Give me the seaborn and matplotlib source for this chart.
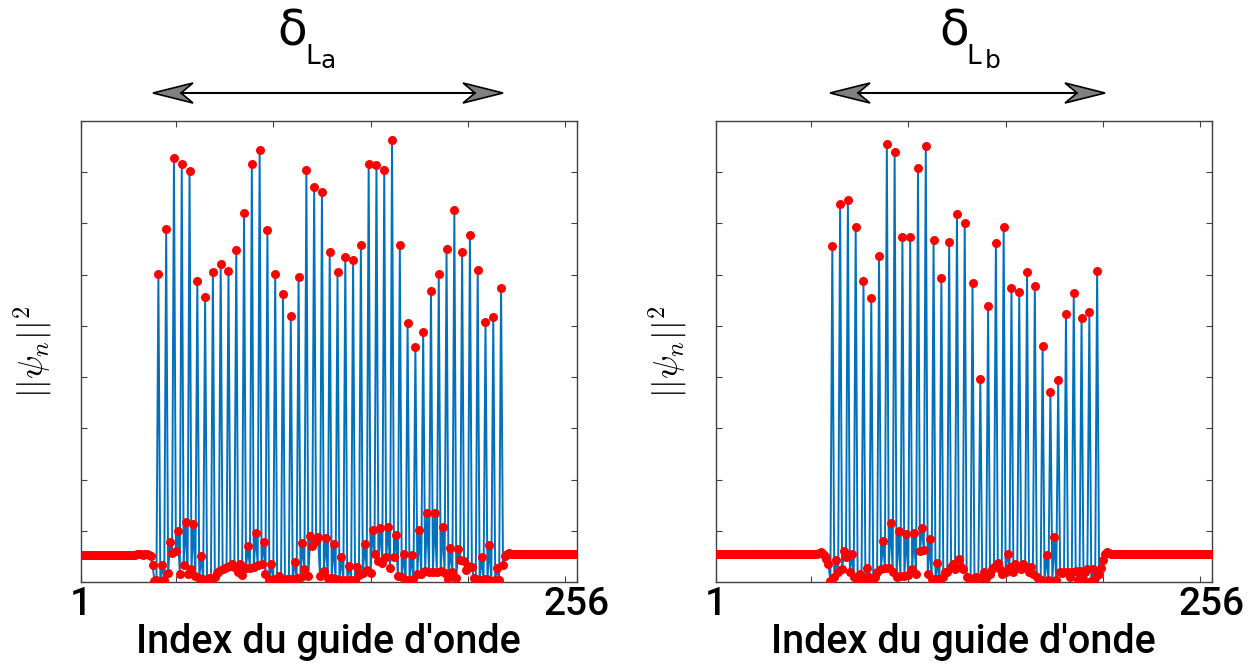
import matplotlib
matplotlib.use("Agg")
import matplotlib.pyplot as plt
from matplotlib.patches import Polygon
from matplotlib.lines import Line2D
import pandas as pd
import seaborn as sns

sns.set_theme(style="white")
plt.rcParams["font.family"] = ["Roboto", "DejaVu Sans"]
plt.rcParams["mathtext.fontset"] = "cm"
plt.rcParams["text.color"] = "black"

# ---------------- data (|psi_n|^2, arbitrary units, ylim 0..9) ----------------
waveguide_index = list(range(1, 257))
x_tick_labels = ["1", "256"]

# Panel a : waveguides 1..40, peaks at 41,45,...,217, triplets between peaks, 218..256
edge_start_a = [0.53] * 29 + [0.54, 0.55, 0.54, 0.53, 0.55, 0.54, 0.53, 0.50, 0.33, 0.02, 0.03]
peaks_a = [6.01, 6.89, 8.27, 8.16, 8.03, 5.88, 5.56, 6.05, 6.21, 6.07,
           6.48, 7.21, 8.16, 8.44, 6.87, 6.01, 5.63, 5.19, 5.95, 8.04,
           7.71, 7.61, 6.44, 6.05, 6.35, 6.29, 6.57, 8.16, 8.14, 8.05,
           8.63, 6.58, 5.05, 4.58, 4.89, 5.68, 6.01, 6.50, 7.27, 6.45,
           6.78, 6.09, 5.07, 5.17, 5.74]
gaps_a = [(0.02, 0.33, 0.03), (0.18, 0.78, 0.56), (0.60, 1.00, 0.15), (0.34, 1.17, 0.15),
          (0.25, 1.13, 0.12), (0.08, 0.50, 0.05), (0.03, 0.08, 0.05), (0.10, 0.18, 0.22),
          (0.25, 0.28, 0.30), (0.32, 0.35, 0.30), (0.20, 0.35, 0.13), (0.28, 0.70, 0.28),
          (0.30, 0.96, 0.33), (0.35, 0.79, 0.15), (0.04, 0.35, 0.05), (0.03, 0.12, 0.05),
          (0.03, 0.06, 0.05), (0.05, 0.40, 0.07), (0.10, 0.76, 0.25), (0.12, 0.90, 0.70),
          (0.80, 0.88, 0.12), (0.22, 0.86, 0.08), (0.08, 0.75, 0.05), (0.03, 0.48, 0.03),
          (0.04, 0.32, 0.03), (0.03, 0.30, 0.13), (0.18, 0.75, 0.23), (0.18, 1.02, 0.54),
          (0.41, 1.05, 0.38), (0.48, 1.07, 0.27), (0.48, 0.92, 0.12), (0.10, 0.55, 0.03),
          (0.03, 0.53, 0.05), (0.15, 1.01, 0.15), (0.22, 1.34, 0.20), (0.20, 1.34, 0.20),
          (0.22, 1.07, 0.18), (0.05, 0.67, 0.20), (0.08, 0.64, 0.42), (0.41, 0.24, 0.32),
          (0.30, 0.08, 0.05), (0.03, 0.48, 0.05), (0.05, 0.72, 0.02), (0.03, 0.28, 0.03)]
edge_end_a = [0.33, 0.50, 0.55, 0.56, 0.55] + [0.54] * 34

# Panel b : waveguides 1..60, peaks at 61,65,...,197, triplets between peaks, 198..256
edge_start_b = [0.54] * 53 + [0.56, 0.58, 0.55, 0.51, 0.45, 0.35, 0.02]
peaks_b = [6.56, 7.38, 7.46, 6.94, 5.88, 5.55, 6.36, 8.56, 8.39, 6.73,
           6.73, 8.08, 8.52, 6.67, 5.94, 6.64, 7.19, 7.01, 5.84, 3.97,
           5.38, 6.62, 6.94, 5.74, 5.66, 6.06, 5.77, 4.60, 3.71, 3.94,
           5.23, 5.64, 5.15, 5.27, 6.08]
gaps_b = [(0.10, 0.42, 0.20), (0.25, 0.60, 0.49), (0.20, 0.55, 0.10), (0.03, 0.15, 0.08),
          (0.02, 0.27, 0.10), (0.05, 0.10, 0.20), (0.25, 0.80, 0.28), (0.28, 1.15, 0.20),
          (0.10, 1.00, 0.12), (0.12, 0.94, 0.13), (0.25, 0.96, 0.15), (0.60, 1.05, 0.62),
          (0.15, 0.84, 0.05), (0.05, 0.38, 0.05), (0.10, 0.20, 0.20), (0.30, 0.35, 0.25),
          (0.45, 0.30, 0.25), (0.10, 0.08, 0.05), (0.08, 0.10, 0.05), (0.10, 0.20, 0.08),
          (0.15, 0.25, 0.30), (0.38, 0.25, 0.15), (0.20, 0.55, 0.30), (0.20, 0.36, 0.30),
          (0.25, 0.35, 0.30), (0.20, 0.30, 0.15), (0.10, 0.05, 0.03), (0.02, 0.53, 0.03),
          (0.02, 0.88, 0.03), (0.20, 0.18, 0.20), (0.20, 0.10, 0.20), (0.22, 0.03, 0.22),
          (0.05, 0.20, 0.25), (0.02, 0.25, 0.08)]
edge_end_b = [0.15, 0.28, 0.42, 0.55, 0.58, 0.56, 0.55] + [0.54] * 52


def assemble(edge_start, peaks, gaps, edge_end):
    vals = list(edge_start)
    for k, p in enumerate(peaks):
        vals.append(p)
        if k < len(gaps):
            vals.extend(gaps[k])
    vals.extend(edge_end)
    return vals


intensity_a = assemble(edge_start_a, peaks_a, gaps_a, edge_end_a)
intensity_b = assemble(edge_start_b, peaks_b, gaps_b, edge_end_b)

# ---------------- figure ----------------
W, H = 1260, 669
fig = plt.figure(figsize=(W / 100, H / 100), dpi=100)

def fx(px):
    return px / W

def fy(py):
    return 1 - py / H

axes_px = [(80.5, 577.0), (715.5, 1212.0)]
top_px, bot_px = 121.0, 582.0
axes = []
for (l, r) in axes_px:
    axes.append(fig.add_axes([fx(l), fy(bot_px), (r - l) / W, (bot_px - top_px) / H]))

blue = "#0072BD"
red = "#FF0000"
for ax, vals in zip(axes, [intensity_a, intensity_b]):
    df = pd.DataFrame({"n": waveguide_index, "I": vals})
    sns.lineplot(data=df, x="n", y="I", ax=ax, color=blue, linewidth=1.4,
                 estimator=None, sort=False, zorder=2)
    sns.scatterplot(data=df, x="n", y="I", ax=ax, color=red, s=42,
                    linewidth=0, zorder=3)
    ax.set_xlim(1, 256)
    ax.set_ylim(0, 9)
    ax.set_xticks([1, 50, 100, 150, 200, 250, 256])
    ax.set_xticklabels([x_tick_labels[0], "", "", "", "", "", x_tick_labels[1]],
                       fontweight="medium")
    ax.set_yticks(range(1, 9))
    ax.set_yticklabels([])
    ax.tick_params(axis="both", direction="in", length=4, width=0.8,
                   top=True, right=True, left=True, bottom=True,
                   colors="#404040", labelcolor="black", labelsize=28, pad=3)
    for s in ax.spines.values():
        s.set_color("#404040")
        s.set_linewidth(1.0)
    ax.set_xlabel("Index du guide d'onde", fontsize=28.5, fontweight="medium",
                  labelpad=0, color="black")
    ax.set_ylabel(r"$||\psi_n||^2$", fontsize=25, labelpad=16, color="black")
    ax.set_facecolor("white")


def double_arrow(x0, x1, y, L=40, Wd=20, N=12):
    head_l = [(x0, y), (x0 + L, y - Wd / 2), (x0 + L - N, y), (x0 + L, y + Wd / 2)]
    head_r = [(x1, y), (x1 - L, y - Wd / 2), (x1 - L + N, y), (x1 - L, y + Wd / 2)]
    fig.add_artist(Line2D([fx(x0 + L - N), fx(x1 - L + N)], [fy(y), fy(y)],
                          transform=fig.transFigure, color="black", linewidth=1.5))
    for h in (head_l, head_r):
        fig.add_artist(Polygon([(fx(a), fy(b)) for a, b in h], closed=True,
                               transform=fig.transFigure, facecolor="#808080",
                               edgecolor="black", linewidth=1.2))


double_arrow(153, 503, 93)
double_arrow(830, 1105, 93)

# delta labels
lab_font = ["DejaVu Sans"]
for (xd, xl, xs, sub) in [(277, 305, 321, "a"), (939, 966, 985, "b")]:
    fig.text(fx(xd), fy(45), "δ", fontsize=35, family=lab_font, color="black",
             ha="left", va="baseline")
    fig.text(fx(xl), fy(64), "L", fontsize=19, family=lab_font, color="black",
             ha="left", va="baseline")
    fig.text(fx(xs), fy(68), sub, fontsize=18, family=lab_font, color="black",
             ha="left", va="baseline")

fig.savefig("out.png", dpi=100, facecolor="white")
